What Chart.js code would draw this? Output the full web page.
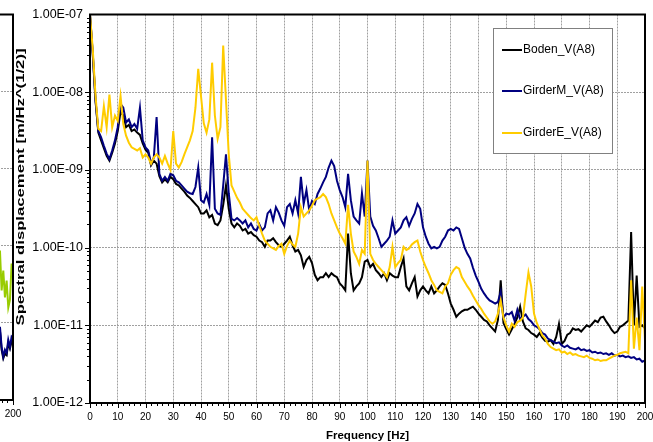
<!DOCTYPE html>
<html>
<head>
<meta charset="utf-8">
<title>Spectral displacement</title>
<script src="https://cdn.jsdelivr.net/npm/chart.js@4.4.1/dist/chart.umd.min.js"></script>
<style>
  html, body { margin: 0; padding: 0; background: #fff; }
  #wrap { position: relative; width: 653px; height: 442px; overflow: hidden; }
  #wrap canvas { position: absolute; top: 0; }
</style>
</head>
<body>
<div id="wrap">
  <canvas id="chartPrev" width="653" height="442" style="left:-632px"></canvas>
  <canvas id="chartMain" width="653" height="442" style="left:0"></canvas>
</div>
<script>
// Frequenz [Hz]
const freq = [
  0, 1, 2, 3, 4, 5, 6, 7, 8, 9, 10, 11, 12, 13, 14, 15, 16, 17, 18, 19,
  20, 21, 22, 23, 24, 25, 26, 27, 28, 29, 30, 31, 32, 33, 34, 35, 36, 37, 38, 39,
  40, 41, 42, 43, 44, 45, 46, 47, 48, 49, 50, 51, 52, 53, 54, 55, 56, 57, 58, 59,
  60, 61, 62, 63, 64, 65, 66, 67, 68, 69, 70, 71, 72, 73, 74, 75, 76, 77, 78, 79,
  80, 81, 82, 83, 84, 85, 86, 87, 88, 89, 90, 91, 92, 93, 94, 95, 96, 97, 98, 99,
  100, 101, 102, 103, 104, 105, 106, 107, 108, 109, 110, 111, 112, 113, 114, 115, 116, 117, 118, 119,
  120, 121, 122, 123, 124, 125, 126, 127, 128, 129, 130, 131, 132, 133, 134, 135, 136, 137, 138, 139,
  140, 141, 142, 143, 144, 145, 146, 147, 148, 149, 150, 151, 152, 153, 154, 155, 156, 157, 158, 159,
  160, 161, 162, 163, 164, 165, 166, 167, 168, 169, 170, 171, 172, 173, 174, 175, 176, 177, 178, 179,
  180, 181, 182, 183, 184, 185, 186, 187, 188, 189, 190, 191, 192, 193, 194, 195, 196, 197, 198, 199,
  200
];

// log10 der spektralen Verschiebung [m/Hz^(1/2)]
const bodenLog = [
  -7.00, -7.52, -8.12, -8.52, -8.62, -8.72, -8.82, -8.88, -8.78, -8.66,
  -8.50, -8.25, -8.30, -8.45, -8.42, -8.50, -8.48, -8.52, -8.55, -8.66,
  -8.74, -8.78, -8.94, -8.88, -8.92, -9.08, -9.16, -9.12, -9.16, -9.09,
  -9.12, -9.18, -9.20, -9.24, -9.28, -9.33, -9.36, -9.40, -9.44, -9.48,
  -9.56, -9.56, -9.52, -9.61, -9.58, -9.69, -9.71, -9.65, -9.45, -9.20,
  -9.50, -9.69, -9.74, -9.69, -9.72, -9.78, -9.76, -9.82, -9.80, -9.84,
  -9.86, -9.91, -9.93, -9.99, -9.91, -9.91, -9.88, -9.93, -9.97, -9.99,
  -9.95, -9.91, -9.86, -9.97, -10.05, -10.03, -10.10, -10.25, -10.16, -10.12,
  -10.20, -10.35, -10.42, -10.38, -10.38, -10.33, -10.38, -10.33, -10.36, -10.38,
  -10.46, -10.50, -10.55, -9.82, -10.33, -10.55, -10.50, -10.46, -10.38, -10.18,
  -10.16, -10.25, -10.21, -10.29, -10.33, -10.38, -10.33, -10.42, -10.33, -10.36,
  -10.38, -10.38, -10.25, -10.14, -10.50, -10.55, -10.46, -10.38, -10.63, -10.55,
  -10.50, -10.55, -10.59, -10.50, -10.59, -10.55, -10.50, -10.46, -10.48, -10.59,
  -10.72, -10.80, -10.89, -10.85, -10.82, -10.80, -10.80, -10.78, -10.76, -10.80,
  -10.85, -10.89, -10.93, -10.95, -11.00, -11.04, -11.08, -10.93, -10.42, -10.97,
  -11.05, -11.12, -11.05, -10.98, -10.90, -10.76, -10.95, -11.04, -11.06, -11.10,
  -11.12, -11.15, -11.10, -11.16, -11.20, -11.21, -11.19, -11.24, -11.15, -10.98,
  -11.24, -11.20, -11.12, -11.10, -11.04, -11.06, -11.05, -11.08, -11.04, -11.00,
  -11.02, -10.98, -10.94, -10.96, -10.90, -10.89, -10.95, -11.00, -11.06, -11.10,
  -11.08, -11.02, -11.00, -10.97, -10.94, -9.80, -11.00, -10.36, -11.02, -11.00,
  -11.04
];
const girderMLog = [
  -7.00, -7.50, -8.10, -8.50, -8.58, -8.69, -8.79, -8.86, -8.75, -8.62,
  -8.45, -8.15, -8.20, -8.39, -8.35, -8.45, -8.41, -8.47, -8.20, -8.62,
  -8.71, -8.75, -8.92, -8.84, -8.32, -9.05, -9.14, -9.09, -9.14, -9.05,
  -9.07, -9.14, -9.16, -9.20, -9.24, -9.28, -9.30, -9.31, -9.22, -8.97,
  -9.39, -9.42, -9.31, -9.45, -8.58, -9.50, -9.56, -9.58, -9.20, -8.80,
  -9.30, -9.63, -9.65, -9.62, -9.65, -9.69, -9.65, -9.74, -9.69, -9.76,
  -9.78, -9.70, -9.78, -9.74, -9.56, -9.52, -9.65, -9.48, -9.55, -9.65,
  -9.72, -9.48, -9.44, -9.56, -9.39, -9.56, -9.09, -9.44, -9.26, -9.52,
  -9.40, -9.44, -9.31, -9.24, -9.16, -9.09, -8.97, -8.88, -8.95, -9.14,
  -9.26, -9.35, -9.48, -9.05, -9.39, -9.60, -9.65, -9.69, -9.30, -9.60,
  -8.88, -9.60, -9.72, -9.78, -9.88, -9.99, -9.95, -9.91, -9.86, -9.65,
  -9.82, -9.78, -9.74, -9.65, -9.61, -9.72, -9.63, -9.56, -9.44, -9.50,
  -9.74, -9.86, -9.95, -10.01, -9.99, -10.01, -9.99, -9.91, -9.86, -9.78,
  -9.76, -9.78, -9.74, -9.76, -9.88, -10.00, -10.08, -10.14, -10.26, -10.36,
  -10.44, -10.53, -10.59, -10.64, -10.68, -10.70, -10.72, -10.70, -10.57, -10.90,
  -10.85, -10.86, -10.83, -10.94, -10.80, -10.92, -10.89, -10.86, -10.92, -10.95,
  -11.00, -11.02, -11.05, -11.10, -11.12, -11.17, -11.19, -11.21, -11.23, -11.22,
  -11.26, -11.28, -11.26, -11.29, -11.30, -11.31, -11.29, -11.32, -11.31, -11.33,
  -11.32, -11.35, -11.34, -11.36, -11.35, -11.37, -11.36, -11.38, -11.36, -11.39,
  -11.38, -11.40, -11.39, -11.41, -11.40, -11.42, -11.41, -11.44, -11.43, -11.47,
  -11.45
];
const girderELog = [
  -7.00, -7.45, -8.05, -8.47, -8.50, -8.18, -8.45, -8.03, -8.45, -8.30,
  -8.37, -8.05, -8.41, -8.56, -8.65, -8.71, -8.73, -8.75, -8.72, -8.84,
  -8.80, -8.84, -8.92, -8.84, -8.80, -8.84, -8.92, -8.82, -8.92, -9.00,
  -8.50, -8.92, -8.97, -8.90, -8.80, -8.71, -8.62, -8.50, -8.20, -7.70,
  -8.05, -8.40, -8.52, -8.35, -7.62, -8.30, -8.60, -8.45, -7.40, -8.10,
  -8.80, -9.20, -9.28, -9.36, -9.42, -9.50, -9.54, -9.58, -9.62, -9.65,
  -9.61, -9.72, -9.82, -9.91, -9.95, -9.99, -10.01, -10.03, -9.98, -9.95,
  -10.08, -9.98, -9.91, -9.96, -9.99, -9.82, -9.48, -9.60, -9.56, -9.52,
  -9.46, -9.39, -9.37, -9.35, -9.31, -9.35, -9.44, -9.56, -9.65, -9.74,
  -9.82, -9.88, -9.95, -9.45, -9.82, -10.05, -10.12, -10.21, -10.03, -10.08,
  -8.88, -10.08, -10.16, -10.21, -10.25, -10.29, -10.33, -10.38, -10.25, -9.99,
  -10.25, -10.20, -10.16, -9.99, -10.03, -10.01, -9.96, -9.93, -9.91, -10.05,
  -10.16, -10.25, -10.33, -10.42, -10.48, -10.55, -10.57, -10.59, -10.50, -10.46,
  -10.35, -10.29, -10.25, -10.27, -10.38, -10.44, -10.50, -10.55, -10.62, -10.68,
  -10.74, -10.79, -10.85, -10.90, -10.95, -10.98, -10.95, -10.85, -10.68, -10.90,
  -11.00, -11.08, -10.98, -11.02, -10.96, -10.94, -10.90, -10.60, -10.32, -10.50,
  -10.85, -10.97, -11.05, -11.13, -11.17, -11.24, -11.28, -11.30, -11.32, -11.31,
  -11.35, -11.34, -11.37, -11.35, -11.38, -11.37, -11.39, -11.40, -11.41, -11.39,
  -11.42, -11.43, -11.45, -11.44, -11.46, -11.45, -11.45, -11.43, -11.41, -11.39,
  -11.38, -11.36, -11.35, -11.34, -11.36, -10.42, -11.30, -10.90, -11.32, -10.50,
  -11.20
];

const seriesNames = ["Boden_V(A8)", "GirderM_V(A8)", "GirderE_V(A8)"];
const seriesColors = ["#000000", "#000080", "#FFCC00"];
const xTitle = "Frequency [Hz]";
const yTitle = "Spectral displacement [m/Hz^(1/2)]";
const yTicks = [1e-12, 1e-11, 1e-10, 1e-9, 1e-8, 1e-7];
const yTickLabels = ["1.00E-12", "1.00E-11", "1.00E-10", "1.00E-09", "1.00E-08", "1.00E-07"];

// rechter Rand des Nachbardiagramms (links abgeschnitten)
const prevFreq = [195.0, 195.3, 195.9, 196.5, 197.1, 197.7, 198.3, 198.9, 199.5, 200.0];
const prevGreenLog = [-10.30, -10.06, -10.58, -10.32, -10.67, -10.45, -10.80, -10.70, -10.23, -10.40];
const prevBlueLog = [-11.15, -11.05, -11.31, -11.44, -11.35, -11.39, -11.22, -11.31, -11.18, -11.20];
const prevBlackLog = [-11.20, -11.10, -11.35, -11.46, -11.40, -11.42, -11.26, -11.33, -11.24, -11.25];

const FONT = '"Liberation Sans", Arial, sans-serif';
Chart.defaults.font.family = FONT;
Chart.defaults.color = "#000";

const toPoints = (xs, logs) => xs.map((x, i) => ({ x: x, y: Math.pow(10, logs[i]) }));

// Rahmen und Hilfsstriche wie in Excel
const framePlugin = {
  id: "frame",
  afterDatasetsDraw(chart) {
    const { ctx, chartArea: a, scales: { x, y } } = chart;
    ctx.save();
    ctx.strokeStyle = "#000";
    ctx.lineWidth = 1;
    ctx.beginPath();
    for (let f = x.min; f <= x.max; f += 2) {
      const px = Math.round(x.getPixelForValue(f)) + 0.5;
      ctx.moveTo(px, a.bottom);
      ctx.lineTo(px, a.bottom + (f % 10 ? 3 : 5));
    }
    for (let e = -12; e < -7; e++) {
      for (let m = 1; m < 10; m++) {
        const py = Math.round(y.getPixelForValue(m * Math.pow(10, e))) + 0.5;
        ctx.moveTo(a.left - (m === 1 ? 5 : 3), py);
        ctx.lineTo(a.left, py);
      }
    }
    ctx.stroke();
    ctx.lineWidth = 2;
    ctx.strokeRect(a.left, a.top, a.right - a.left, a.bottom - a.top);
    ctx.restore();
  }
};

const legendPlugin = {
  id: "boxLegend",
  afterDraw(chart) {
    const ctx = chart.ctx;
    const rows = [50, 91, 133];
    ctx.save();
    ctx.fillStyle = "#fff";
    ctx.fillRect(493.5, 28.5, 119, 125);
    ctx.strokeStyle = "#808080";
    ctx.lineWidth = 1;
    ctx.strokeRect(493.5, 28.5, 119, 125);
    ctx.font = "12px " + FONT;
    ctx.textBaseline = "middle";
    chart.data.datasets.forEach((ds, i) => {
      ctx.strokeStyle = ds.borderColor;
      ctx.lineWidth = 2;
      ctx.beginPath();
      ctx.moveTo(502, rows[i]);
      ctx.lineTo(522, rows[i]);
      ctx.stroke();
      ctx.fillStyle = "#000";
      ctx.fillText(ds.label, 523, rows[i]);
    });
    ctx.restore();
  }
};

const titlePlugin = {
  id: "titles",
  afterDraw(chart) {
    const { ctx, chartArea: a } = chart;
    ctx.save();
    ctx.fillStyle = "#000";
    ctx.font = "bold 11.5px " + FONT;
    ctx.textAlign = "center";
    ctx.textBaseline = "middle";
    ctx.fillText(xTitle, (a.left + a.right) / 2, 436);
    ctx.translate(24, 187);
    ctx.rotate(-Math.PI / 2);
    ctx.textBaseline = "alphabetic";
    const w = ctx.measureText(yTitle).width;
    ctx.scale(277 / w, 1);
    ctx.fillText(yTitle, 0, 0);
    ctx.restore();
  }
};

function axes(xHeight) {
  return {
    x: {
      type: "linear", min: 0, max: 200,
      ticks: { stepSize: 10, autoSkip: false, maxRotation: 0, padding: 8, font: { size: 10 } },
      grid: { color: "#a0a0a0", drawTicks: false },
      border: { display: false, dash: [2, 1] },
      afterFit(s) { s.height = xHeight; s.paddingLeft = 0; s.paddingRight = 0; }
    },
    y: {
      type: "logarithmic", min: 1e-12, max: 1e-7,
      afterBuildTicks(s) { s.ticks = yTicks.map(v => ({ value: v })); },
      ticks: { callback: (v, i) => yTickLabels[i], padding: 7, font: { size: 12.5 } },
      grid: { color: "#a0a0a0", drawTicks: false },
      border: { display: false, dash: [2, 1] },
      afterFit(s) { s.width = 90; }
    }
  };
}

function baseOptions(top, xHeight) {
  return {
    responsive: false,
    animation: false,
    events: [],
    layout: { padding: { top: top, right: 8, left: 0, bottom: 0 } },
    elements: { point: { radius: 0 }, line: { borderWidth: 2, tension: 0 } },
    plugins: { legend: { display: false }, tooltip: { enabled: false } },
    scales: axes(xHeight)
  };
}

new Chart(document.getElementById("chartPrev"), {
  type: "line",
  data: {
    datasets: [
      { data: toPoints(prevFreq, prevBlackLog), borderColor: "#000000", order: 3 },
      { data: toPoints(prevFreq, prevBlueLog), borderColor: "#000080", order: 2 },
      { data: toPoints(prevFreq, prevGreenLog), borderColor: "#99CC00", order: 1 }
    ]
  },
  options: baseOptions(14, 42),
  plugins: [framePlugin]
});

new Chart(document.getElementById("chartMain"), {
  type: "line",
  data: {
    datasets: [
      { label: seriesNames[0], data: toPoints(freq, bodenLog), borderColor: seriesColors[0], order: 3 },
      { label: seriesNames[1], data: toPoints(freq, girderMLog), borderColor: seriesColors[1], order: 2 },
      { label: seriesNames[2], data: toPoints(freq, girderELog), borderColor: seriesColors[2], order: 1 }
    ]
  },
  options: baseOptions(13, 39),
  plugins: [framePlugin, legendPlugin, titlePlugin]
});
</script>
</body>
</html>
